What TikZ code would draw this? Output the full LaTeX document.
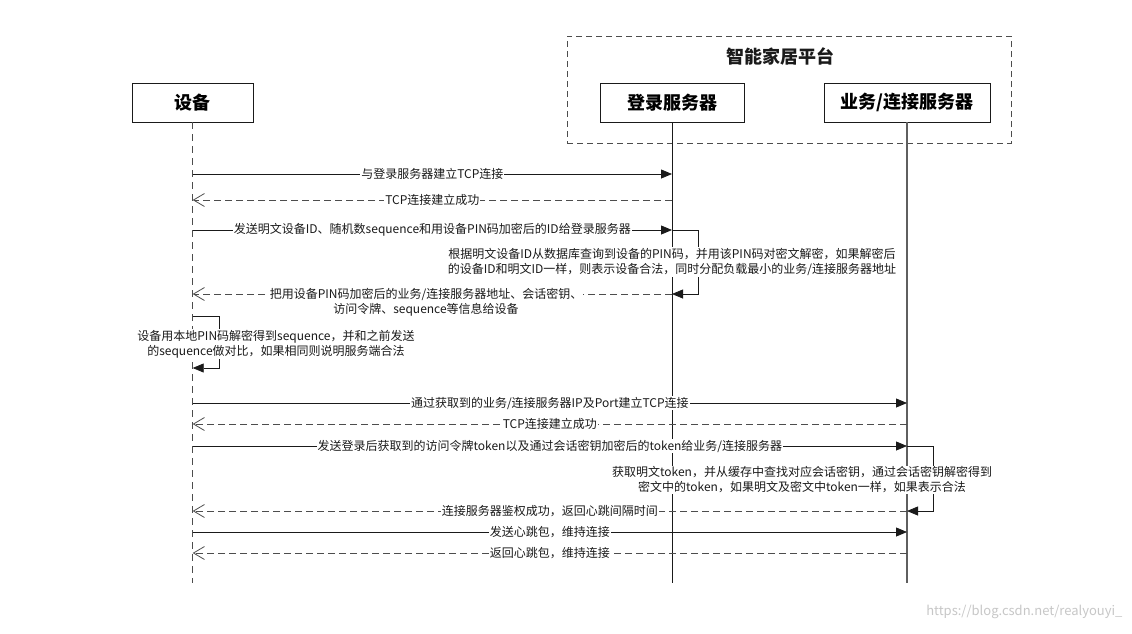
\documentclass[tikz,border=0pt]{standalone}
\usepackage{fontspec}
\setmainfont{Noto Sans CJK SC}
\usepackage{tikz}
\usetikzlibrary{positioning,arrows.meta}
\definecolor{ink}{HTML}{1A1A1A}
\definecolor{muted}{HTML}{4D4D4D}
\tikzset{
  caja/.style={draw=ink,line width=0.9pt,fill=white,minimum height=39pt,inner sep=2pt,font=\fontsize{18}{20}\selectfont\bfseries},
  vida/.style={line width=0.9pt,color=ink},
  vidad/.style={line width=0.9pt,color=muted,dash pattern=on 7pt off 5pt},
  flecha/.style={-{Triangle[length=11pt,width=9pt]},line width=0.8pt,color=ink},
  flechad/.style={-{Straight Barb[length=11pt,width=13pt]},line width=0.8pt,color=muted,dash pattern=on 7pt off 4pt},
  etiqueta/.style={fill=white,inner sep=1pt,align=center,text=ink,font=\fontsize{12}{15}\selectfont},
}
\begin{document}
\begin{tikzpicture}[x=1pt,y=-1pt]
  \useasboundingbox[fill=white] (0,0) rectangle (1132,633);
  % plataforma
  \node[draw=muted,line width=0.9pt,dash pattern=on 6pt off 4pt,minimum width=444pt,minimum height=107pt] (plat) at (789,89.5) {};
  \node[font=\fontsize{18}{20}\selectfont\bfseries,text=ink] (tplat) at (780,56) {智能家居平台};
  \node[caja,minimum width=121pt] (dev) at (192.7,102.5) {设备};
  \node[caja,minimum width=144pt] (log) at (672,102.5) {登录服务器};
  \node[caja,minimum width=166pt] (biz) at (907,102.5) {业务/连接服务器};
  % lineas de vida
  \coordinate (fin) at (0,583);
  \draw[vidad] (dev.south) -- (dev |- fin);
  \draw[vida] (log.south) -- (log |- fin);
  \draw[vida,color=ink!70,line width=1.1pt] (biz.south) -- (biz |- fin);
  % mensajes
  \foreach \n/\y in {m1/174,m2/200,m3/230,m5/294,m6a/316,m6b/368,m7/403,m8/424,m9/446,m11/511,m12/532,m13/553}
    \coordinate (\n) at (0,\y);
  \draw[flecha] (dev |- m1) -- node[etiqueta] {与登录服务器建立TCP连接} (log |- m1);
  \draw[flechad] (log |- m2) -- node[etiqueta] {TCP连接建立成功} (dev |- m2);
  \draw[flecha] (dev |- m3) -- node[etiqueta] {发送明文设备ID、随机数sequence和用设备PIN码加密后的ID给登录服务器} (log |- m3);
  \draw[flecha] (log |- m3) -- ++(26,0) |- (log |- m5);
  \node[etiqueta] (n4) at (672,262) {根据明文设备ID从数据库查询到设备的PIN码，并用该PIN码对密文解密，如果解密后\\的设备ID和明文ID一样，则表示设备合法，同时分配负载最小的业务/连接服务器地址};
  \draw[flechad] (log |- m5) -- (dev |- m5);
  \node[etiqueta] (n5) at (426,302) {把用设备PIN码加密后的业务/连接服务器地址、会话密钥、\\访问令牌、sequence等信息给设备};
  \draw[flecha] (dev |- m6a) -- ++(27,0) |- (dev |- m6b);
  \node[etiqueta] (n6) at (276,344) {设备用本地PIN码解密得到sequence，并和之前发送\\的sequence做对比，如果相同则说明服务端合法};
  \draw[flecha] (dev |- m7) -- node[etiqueta] {通过获取到的业务/连接服务器IP及Port建立TCP连接} (biz |- m7);
  \draw[flechad] (biz |- m8) -- node[etiqueta] {TCP连接建立成功} (dev |- m8);
  \draw[flecha] (dev |- m9) -- node[etiqueta] {发送登录后获取到的访问令牌token以及通过会话密钥加密后的token给业务/连接服务器} (biz |- m9);
  \draw[flecha] (biz |- m9) -- ++(26,0) |- (biz |- m11);
  \node[etiqueta] (n10) at (802,480) {获取明文token，并从缓存中查找对应会话密钥，通过会话密钥解密得到\\密文中的token，如果明文及密文中token一样，如果表示合法};
  \draw[flechad] (biz |- m11) -- node[etiqueta] {连接服务器鉴权成功，返回心跳间隔时间} (dev |- m11);
  \draw[flecha] (dev |- m12) -- node[etiqueta] {发送心跳包，维持连接} (biz |- m12);
  \draw[flechad] (biz |- m13) -- node[etiqueta] {返回心跳包，维持连接} (dev |- m13);
  \node[text=black!22,font=\fontsize{13}{15}\selectfont,anchor=east] (marca) at (1126,612) {https://blog.csdn.net/realyouyi\_};
\end{tikzpicture}
\end{document}
